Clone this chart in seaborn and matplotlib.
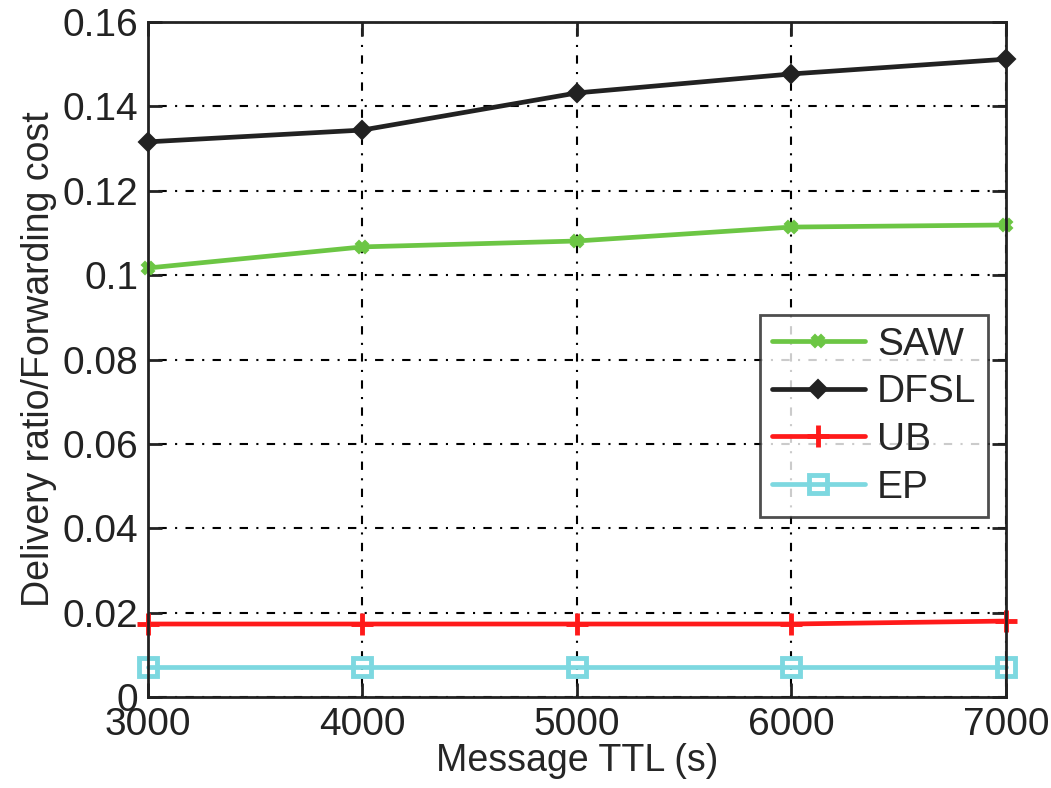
import matplotlib
matplotlib.use("Agg")
import matplotlib.pyplot as plt
import seaborn as sns
import pandas as pd

ttl = [3000, 4000, 5000, 6000, 7000]
saw = [0.1017, 0.1067, 0.1081, 0.1114, 0.1119]
dfsl = [0.1316, 0.1344, 0.1432, 0.1477, 0.1512]
ub = [0.0173, 0.0173, 0.0173, 0.0173, 0.0180]
ep = [0.0071, 0.0071, 0.0071, 0.0071, 0.0071]
series_names = ["SAW", "DFSL", "UB", "EP"]

sns.set_style("white")
plt.rcParams['font.family'] = ['Liberation Sans', 'DejaVu Sans']

rows = []
for name, vals in zip(series_names, [saw, dfsl, ub, ep]):
    for x, v in zip(ttl, vals):
        rows.append({"ttl": x, "value": v, "series": name})
df = pd.DataFrame(rows)

fig = plt.figure(figsize=(10.51, 7.88), dpi=100)
ax = fig.add_axes([0.1408, 0.1155, 0.957 - 0.1408, 0.972 - 0.1155])

palette = {"SAW": "#6cc644", "DFSL": "#222222", "UB": "#ff1a1a", "EP": "#7dd8e0"}
markers = {"SAW": "X", "DFSL": "D", "UB": "+", "EP": "s"}
msizes = {"SAW": 8, "DFSL": 9, "UB": 16, "EP": 13}

for name in series_names:
    sub = df[df.series == name]
    mfc = "none" if name == "EP" else palette[name]
    sns.lineplot(data=sub, x="ttl", y="value", ax=ax, color=palette[name],
                 linewidth=3.4, marker=markers[name], markersize=msizes[name],
                 markerfacecolor=mfc, markeredgecolor=palette[name],
                 markeredgewidth=3.5 if name in ("UB", "EP") else 1.5,
                 label=name, clip_on=False)

ax.set_xlim(3000, 7000)
ax.set_ylim(0, 0.16)
ax.set_xticks(ttl)
ax.set_yticks([0, 0.02, 0.04, 0.06, 0.08, 0.1, 0.12, 0.14, 0.16])
ax.set_yticklabels(["0", "0.02", "0.04", "0.06", "0.08", "0.1", "0.12", "0.14", "0.16"])
ax.grid(True, linestyle=(0, (1, 4, 4, 4)), color="black", linewidth=1.5)
for s in ax.spines.values():
    s.set_color("#222222")
    s.set_linewidth(2)
ax.tick_params(axis="both", labelsize=28, direction="in", length=10, width=2,
               colors="#222222", top=True, right=True, left=True, bottom=True, pad=7)
ax.set_xlabel("Message TTL (s)", fontsize=27, labelpad=0)
ax.set_ylabel("Delivery ratio/Forwarding cost", fontsize=27, labelpad=4)

leg = ax.legend(loc="center right", bbox_to_anchor=(0.979, 0.416), fontsize=28,
                frameon=True, fancybox=False, edgecolor="#222222",
                handlelength=2.4, borderpad=0.3, labelspacing=0.3, handletextpad=0.3,
                borderaxespad=0)
leg.get_frame().set_linewidth(2)

fig.savefig("out.png", dpi=100)
